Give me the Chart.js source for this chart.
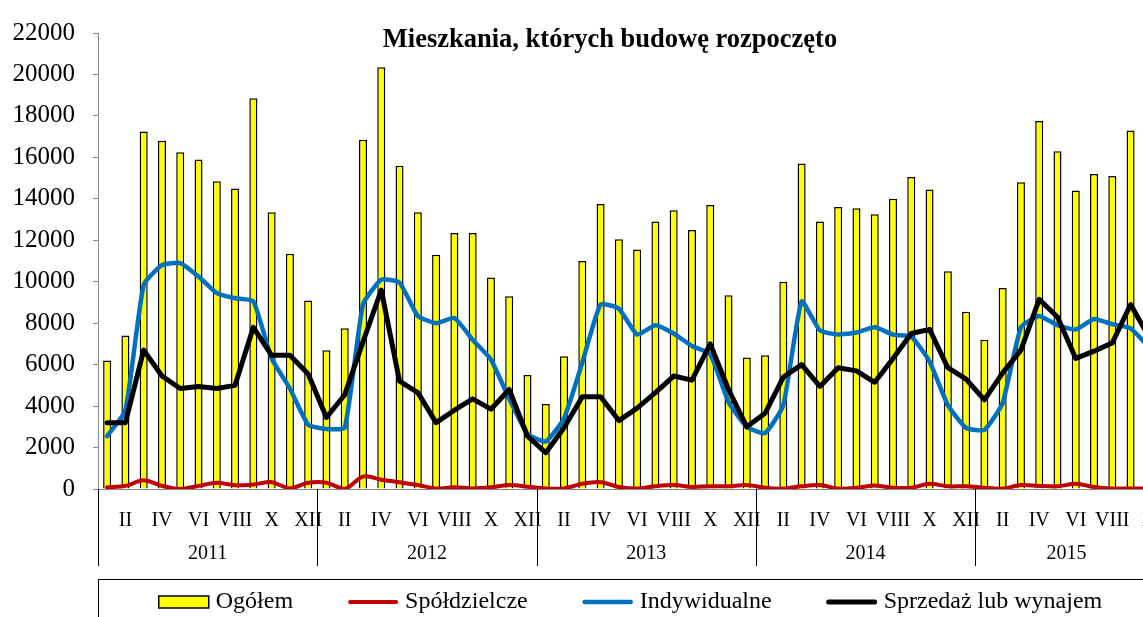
<!DOCTYPE html>
<html>
<head>
<meta charset="utf-8">
<script src="https://cdn.jsdelivr.net/npm/chart.js@4/dist/chart.umd.min.js"></script>
<style>
html,body{margin:0;padding:0;background:#fff;overflow:hidden;width:1143px;height:617px;}
canvas{display:block;}
</style>
</head>
<body>
<canvas id="c" width="1222" height="640"></canvas>
<script>
const titleText = 'Mieszkania, których budowę rozpoczęto';
const months = ['I','II','III','IV','V','VI','VII','VIII','IX','X','XI','XII'];
const years = ['2011','2012','2013','2014','2015'];
const monthsPerYear = [12,12,12,12,10];
const yTicks = [0,2000,4000,6000,8000,10000,12000,14000,16000,18000,20000,22000];

const ogolem = [6200,7400,17250,16800,16250,15900,14850,14500,18850,13350,11350,9100,
6700,7750,16850,20350,15600,13350,11300,12350,12350,10200,9300,5500,
4100,6400,11000,13750,12050,11550,12900,13450,12500,13700,9350,6350,
6450,10000,15700,12900,13600,13550,13250,14000,15050,14450,10500,8550,
7200,9700,14800,17750,16300,14400,15200,15100,17300,15600];

const spoldzielcze = [80,150,420,150,0,150,300,180,220,330,30,300,
300,0,600,450,330,190,30,80,30,80,190,110,
30,30,250,330,100,20,130,190,100,130,130,190,
60,20,130,190,20,60,170,60,60,250,130,130,
60,20,190,150,130,250,100,30,30,30];

const indywidualne = [2550,3800,9850,10800,10900,10250,9450,9200,9050,6300,4850,3100,
2900,2950,8900,10100,9950,8350,8000,8250,7200,6250,4350,2650,
2300,3400,6100,8900,8700,7450,7900,7500,6900,6500,4200,3000,
2700,4050,9050,7650,7450,7550,7800,7450,7350,6150,4050,2950,
2850,4150,7800,8350,7900,7700,8200,7950,7750,6850];

const sprzedaz = [3200,3200,6700,5450,4850,4950,4850,5000,7800,6450,6450,5550,
3450,4550,7100,9600,5200,4650,3200,3800,4350,3850,4800,2550,
1750,2950,4450,4450,3300,3900,4650,5450,5250,7000,4800,3000,
3650,5400,6000,4950,5850,5700,5150,6300,7500,7700,5850,5300,
4300,5600,6700,9150,8300,6300,6650,7050,8900,7350];

const seriesNames = ['Ogółem','Spółdzielcze','Indywidualne','Sprzedaż lub wynajem'];

const labels = [];
years.forEach((y,i)=>{ for(let m=0;m<monthsPerYear[i];m++) labels.push(months[m]); });

const SERIF = '"Liberation Serif", "Times New Roman", serif';

const overlay = {
  id:'overlay',
  afterDraw(chart){
    const ctx = chart.ctx;
    const xs = chart.scales.x;
    const area = chart.chartArea;
    ctx.save();
    // title
    ctx.fillStyle = '#000';
    ctx.font = 'bold 26.5px ' + SERIF;
    ctx.textAlign = 'center';
    ctx.textBaseline = 'alphabetic';
    ctx.fillText(titleText, 610, 47);
    // year separators and labels
    const half = (xs.getPixelForValue(1) - xs.getPixelForValue(0))/2;
    ctx.strokeStyle = '#000';
    ctx.lineWidth = 1;
    let idx = 0;
    ctx.font = '20px ' + SERIF;
    ctx.textBaseline = 'middle';
    years.forEach((y,i)=>{
      const start = xs.getPixelForValue(idx) - half;
      const end = xs.getPixelForValue(idx + monthsPerYear[i] - 1) + half;
      const sx = Math.round(start) + 0.5;
      ctx.beginPath(); ctx.moveTo(sx, area.bottom); ctx.lineTo(sx, 566); ctx.stroke();
      ctx.fillText(y, (start+end)/2, 554);
      idx += monthsPerYear[i];
      if (i === years.length-1){
        const ex = Math.round(end)+0.5;
        ctx.beginPath(); ctx.moveTo(ex, area.bottom); ctx.lineTo(ex, 566); ctx.stroke();
      }
    });
    // legend
    const boxL = 98, boxR = 1166, boxT = 579, boxB = 630;
    ctx.strokeStyle = '#000';
    ctx.lineWidth = 1;
    ctx.strokeRect(boxL+0.5, boxT+0.5, boxR-boxL, boxB-boxT);
    ctx.font = '24px ' + SERIF;
    const symW = 52, gapT = 6, gapI = 54;
    const ds = chart.data.datasets;
    const order = [0,1,2,3];
    let total = 0;
    order.forEach((k,j)=>{ total += symW + gapT + ctx.measureText(ds[k].label).width; if(j<order.length-1) total += gapI; });
    let x = 630 - total/2;
    const cy = 602;
    order.forEach(k=>{
      const d = ds[k];
      if (d.type === 'bar'){
        ctx.fillStyle = d.backgroundColor;
        ctx.fillRect(x+1, cy-6, symW-2, 12);
        ctx.strokeStyle = '#000'; ctx.lineWidth = 1.5;
        ctx.strokeRect(x+1, cy-6, symW-2, 12);
      } else {
        ctx.strokeStyle = d.borderColor; ctx.lineWidth = d.borderWidth; ctx.lineCap = 'round';
        ctx.beginPath(); ctx.moveTo(x+3, cy); ctx.lineTo(x+symW-3, cy); ctx.stroke();
      }
      x += symW + gapT;
      ctx.fillStyle = '#000';
      ctx.textAlign = 'left';
      ctx.textBaseline = 'middle';
      ctx.fillText(d.label, x, cy);
      x += ctx.measureText(d.label).width + gapI;
    });
    ctx.restore();
  }
};

new Chart(document.getElementById('c'), {
  data: {
    labels: labels,
    datasets: [
      {type:'bar', label:seriesNames[0], data:ogolem, backgroundColor:'#FFFF00', borderColor:'#000', borderWidth:1.5,
       barPercentage:0.44, categoryPercentage:1, order:4},
      {type:'line', label:seriesNames[1], data:spoldzielcze, borderColor:'#C00000', borderWidth:4, pointRadius:0, tension:0.3, order:3, borderJoinStyle:'round', borderCapStyle:'round'},
      {type:'line', label:seriesNames[2], data:indywidualne, borderColor:'#0070C0', borderWidth:4.5, pointRadius:0, tension:0.15, order:2, borderJoinStyle:'round', borderCapStyle:'round'},
      {type:'line', label:seriesNames[3], data:sprzedaz, borderColor:'#000000', borderWidth:5, pointRadius:0, tension:0, order:1, borderJoinStyle:'round', borderCapStyle:'round'}
    ]
  },
  options: {
    responsive:false,
    animation:false,
    layout:{padding:{left:0, right:64, top:23, bottom:0}},
    plugins:{legend:{display:false}, title:{display:false}, tooltip:{enabled:false}},
    scales:{
      x:{
        type:'category',
        offset:true,
        grid:{display:false, drawTicks:false},
        border:{display:true, color:'#868686', width:1},
        ticks:{autoSkip:false, maxRotation:0, minRotation:0, padding:20, color:'#000',
               font:{family:SERIF, size:20},
               callback:function(v,i){ return (i%12)%2===1 ? labels[i] : ''; }},
        afterFit:function(s){ s.height = 151; }
      },
      y:{
        min:0, max:22000,
        afterBuildTicks:function(s){ s.ticks = yTicks.map(v=>({value:v})); },
        grid:{display:true, drawOnChartArea:false, drawTicks:true, tickLength:5, color:'#868686'},
        border:{display:true, color:'#868686', width:1},
        ticks:{padding:18, color:'#000', font:{family:SERIF, size:25},
               callback:function(v){ return String(v); }},
        afterFit:function(s){ s.width = 98; }
      }
    }
  },
  plugins:[overlay]
});
</script>
</body>
</html>
